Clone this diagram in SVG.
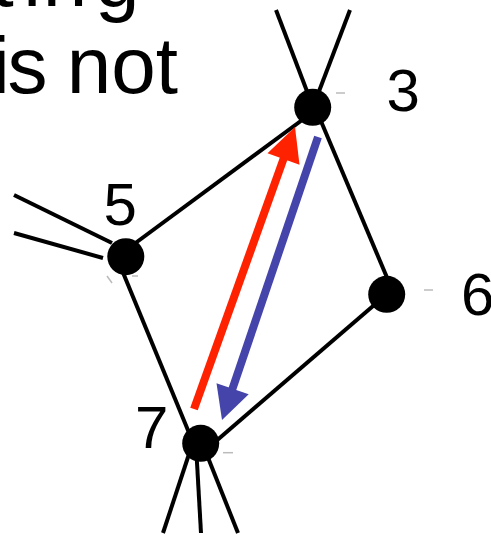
<svg xmlns="http://www.w3.org/2000/svg" width="491" height="535" viewBox="0 0 491 535">
<style>
.edge{stroke:#000;stroke-width:4;fill:none}
.node{fill:#000}
.lbl{font-family:"Liberation Sans",Arial,sans-serif;font-size:60px;fill:#000}
.title{font-family:"Liberation Sans",Arial,sans-serif;font-size:80px;fill:#000}
.tick{stroke:#bbb;stroke-width:1.5;fill:none}
.red{stroke:#FF2200;stroke-width:8;fill:none}
.blue{stroke:#4444AA;stroke-width:8;fill:none}
</style>
<rect width="491" height="535" fill="#fff"/>
<g id="title">
<text class="title" x="-8.6 23.3 42.7 95" y="6">ting</text>
<text class="title" x="-8 7.5 60 66.7" y="93.3">is not</text>
</g>
<g id="connectors">
<line class="edge" x1="276" y1="10" x2="313" y2="107"/>
<line class="edge" x1="350" y1="10" x2="313" y2="107"/>
<line class="edge" x1="126" y1="250" x2="313" y2="112"/>
<line class="edge" x1="315" y1="107" x2="391" y2="287"/>
<line class="edge" x1="14" y1="195" x2="112" y2="243"/>
<line class="edge" x1="14" y1="233" x2="103" y2="258"/>
<line class="edge" x1="117" y1="258" x2="192" y2="440"/>
<line class="edge" x1="386.7" y1="294.3" x2="215" y2="442"/>
<line class="edge" x1="192" y1="445" x2="163" y2="533"/>
<line class="edge" x1="196" y1="445" x2="201" y2="533"/>
<line class="edge" x1="203" y1="445" x2="238" y2="533"/>
<line class="tick" x1="336" y1="93" x2="345" y2="93"/>
<line class="tick" x1="424" y1="290" x2="433" y2="290"/>
<line class="tick" x1="223" y1="452.7" x2="233" y2="452.7"/>
<line class="tick" x1="107" y1="276" x2="112" y2="283"/>
<line class="tick" x1="132" y1="276" x2="138" y2="276"/>
<g id="arrow-red">
<line class="red" x1="194" y1="409" x2="286" y2="152"/>
<polygon fill="#FF2200" points="295,127 299.5,164.7 267.5,153.3"/>
</g>
<g id="arrow-blue">
<line class="blue" x1="318" y1="137" x2="230" y2="396"/>
<polygon fill="#4444AA" points="222,420 248.7,394.2 216.5,383.2"/>
</g>
</g>
<g id="node3">
<circle class="node" cx="312.7" cy="107.3" r="18.5"/>
<text class="lbl" x="386.4" y="111">3</text>
</g>
<g id="node5">
<circle class="node" cx="125.8" cy="256.7" r="18.5"/>
<text class="lbl" x="103.4" y="225">5</text>
</g>
<g id="node6">
<circle class="node" cx="386.7" cy="294.3" r="18.5"/>
<text class="lbl" x="461" y="315">6</text>
</g>
<g id="node7">
<circle class="node" cx="200.7" cy="443.3" r="18.5"/>
<text class="lbl" x="135" y="448">7</text>
</g>
</svg>
